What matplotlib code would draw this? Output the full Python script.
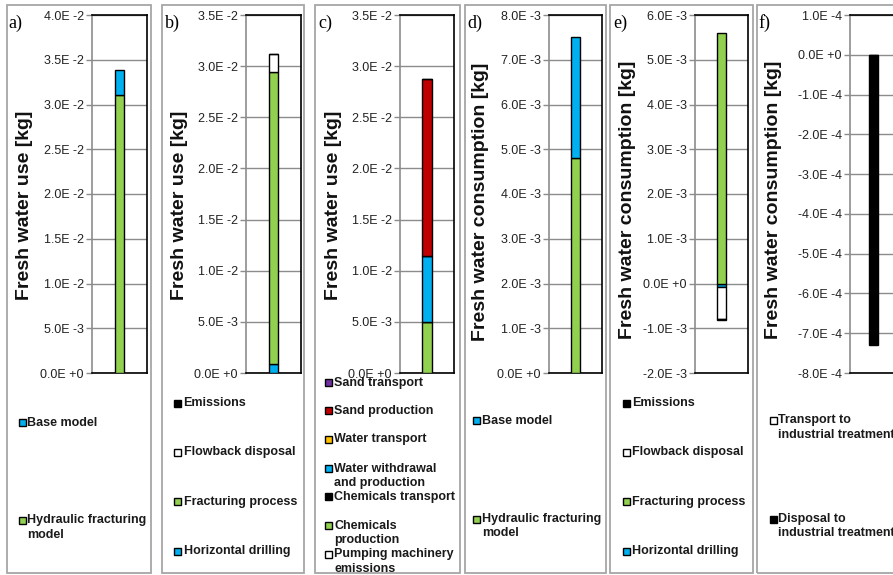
import numpy as np
import matplotlib
matplotlib.use("Agg")
import matplotlib.pyplot as plt
from matplotlib.patches import Rectangle
from matplotlib.ticker import FuncFormatter

W, H = 893, 575

GREEN = "#92D050"
BLUE = "#00B0F0"
RED = "#C00000"
PURPLE = "#7030A0"
ORANGE = "#FFC000"

# ---- data (kg), listed bottom-up in each stacked bar ----
a_labels = ["Hydraulic fracturing\nmodel", "Base model"]
a_values = [0.0311, 0.0027]
a_colors = [GREEN, BLUE]

b_labels = ["Horizontal drilling", "Fracturing process", "Flowback disposal", "Emissions"]
b_values = [0.0009, 0.0285, 0.0018, 0.0]
b_colors = [BLUE, GREEN, "white", "black"]

c_labels = ["Pumping machinery\nemissions", "Chemicals\nproduction", "Chemicals transport",
            "Water withdrawal\nand production", "Water transport", "Sand production", "Sand transport"]
c_values = [0.0, 0.0050, 0.0, 0.0064, 0.0, 0.0173, 0.0]
c_colors = ["white", GREEN, "black", BLUE, ORANGE, RED, PURPLE]

d_labels = ["Hydraulic fracturing\nmodel", "Base model"]
d_values = [0.0048, 0.0027]
d_colors = [GREEN, BLUE]

e_labels = ["Horizontal drilling", "Fracturing process", "Flowback disposal", "Emissions"]
e_values = [-0.00008, 0.0056, -0.00072, -0.00002]
e_colors = [BLUE, GREEN, "white", "black"]

f_labels = ["Disposal to\nindustrial treatment", "Transport to\nindustrial treatment"]
f_values = [-0.00073, 0.0]
f_colors = ["black", "white"]

panels = [
    dict(tag="a)", labels=a_labels, values=a_values, colors=a_colors,
         ylim=(0, 0.04), step=0.005, ylabel="Fresh water use [kg]",
         box=(7, 151), ax=(92, 147), bw=0.17, yl=(25, 205), tagx=8,
         leg_x=(18.5, 27), leg_y=[520, 422.7]),
    dict(tag="b)", labels=b_labels, values=b_values, colors=b_colors,
         ylim=(0, 0.035), step=0.005, ylabel="Fresh water use [kg]",
         box=(162, 304), ax=(246, 301), bw=0.17, yl=(180, 205), tagx=165,
         leg_x=(173.5, 183.5), leg_y=[551, 501.7, 452.3, 403.3]),
    dict(tag="c)", labels=c_labels, values=c_values, colors=c_colors,
         ylim=(0, 0.035), step=0.005, ylabel="Fresh water use [kg]",
         box=(315, 460), ax=(400, 454), bw=0.17, yl=(334, 205), tagx=318,
         leg_x=(325, 334.5), leg_y=[554.3, 525.7, 496.7, 468.7, 439.3, 410.7, 382.7]),
    dict(tag="d)", labels=d_labels, values=d_values, colors=d_colors,
         ylim=(0, 0.008), step=0.001, ylabel="Fresh water consumption [kg]",
         box=(465, 606), ax=(549, 602), bw=0.17, yl=(481, 202), tagx=467,
         leg_x=(473, 482.5), leg_y=[519, 420.7]),
    dict(tag="e)", labels=e_labels, values=e_values, colors=e_colors,
         ylim=(-0.002, 0.006), step=0.001, ylabel="Fresh water consumption [kg]",
         box=(610, 753), ax=(695, 748), bw=0.17, yl=(627, 200), tagx=613,
         leg_x=(623, 632.5), leg_y=[551, 501.7, 452.3, 403.3]),
    dict(tag="f)", labels=f_labels, values=f_values, colors=f_colors,
         ylim=(-0.0008, 0.0001), step=0.0001, ylabel="Fresh water consumption [kg]",
         box=(757, 905), ax=(850, 897), bw=0.21, yl=(773, 200), tagx=758,
         leg_x=(769.5, 778.5), leg_y=[519, 420]),
]


def sci_fmt(v, pos):
    if abs(v) < 1e-12:
        return "0.0E +0"
    e = int(np.floor(np.log10(abs(v)) + 1e-9))
    m = v / 10 ** e
    sign = "+" if e >= 0 else "-"
    return f"{m:.1f}E {sign}{abs(e)}"


def fx(x):
    return x / W


def fy(y):
    return 1 - y / H


fig = plt.figure(figsize=(W / 100, H / 100), dpi=100)
fig.patch.set_facecolor("white")

TOP, BOT = 15, 373

for p in panels:
    # gray panel frame
    x0, x1 = p["box"]
    fig.patches.append(Rectangle((fx(x0), fy(573)), fx(x1 - x0), (573 - 5) / H,
                                 transform=fig.transFigure, facecolor="none",
                                 edgecolor="#A6A6A6", lw=1.3, zorder=0))

    l, r = p["ax"]
    ax = fig.add_axes([fx(l), fy(BOT), fx(r - l), (BOT - TOP) / H])
    pos_base, neg_base = 0.0, 0.0
    for v, c in zip(p["values"], p["colors"]):
        if v >= 0:
            ax.bar(0, v, width=p["bw"], bottom=pos_base, color=c, edgecolor="black", lw=1.0, zorder=3)
            pos_base += v
        else:
            ax.bar(0, v, width=p["bw"], bottom=neg_base, color=c, edgecolor="black", lw=1.0, zorder=3)
            neg_base += v

    lo, hi = p["ylim"]
    ax.set_xlim(-0.5, 0.5)
    ax.set_ylim(lo, hi)
    ax.set_yticks(np.arange(lo, hi + p["step"] / 2, p["step"]))
    ax.yaxis.set_major_formatter(FuncFormatter(sci_fmt))
    ax.set_xticks([])
    ax.grid(axis="y", color="#8C8C8C", lw=1.0, zorder=0)
    ax.set_axisbelow(True)
    for s in ["top", "right", "bottom"]:
        ax.spines[s].set_color("black")
        ax.spines[s].set_linewidth(1.2)
    ax.spines["left"].set_color("#8C8C8C")
    ax.spines["left"].set_linewidth(1.2)
    ax.tick_params(axis="y", direction="out", length=4, width=1, color="#8C8C8C",
                   pad=2, labelsize=9, labelcolor="#222222")
    for t in ax.get_yticklabels():
        t.set_family("Liberation Sans")

    fig.text(fx(p["yl"][0]), fy(p["yl"][1]), p["ylabel"], rotation=90, ha="center", va="center",
             fontsize=14, fontweight="bold", family="Liberation Sans", color="#111111")
    fig.text(fx(p["tagx"]), fy(23), p["tag"], ha="left", va="center", fontsize=13,
             family="Liberation Serif", color="black")

    # legend entries
    mx, tx = p["leg_x"]
    for lab, c, yc in zip(p["labels"], p["colors"], p["leg_y"]):
        fig.patches.append(Rectangle((fx(mx), fy(yc + 3.5)), fx(7), 7 / H,
                                     transform=fig.transFigure, facecolor=c,
                                     edgecolor="black", lw=1.0, zorder=5))
        for i, line in enumerate(lab.split("\n")):
            fig.text(fx(tx), fy(yc + i * 14.5), line, ha="left", va="center",
                     fontsize=9, fontweight="bold", family="Liberation Sans", color="#1a1a1a")

fig.savefig("out.png", dpi=100)
